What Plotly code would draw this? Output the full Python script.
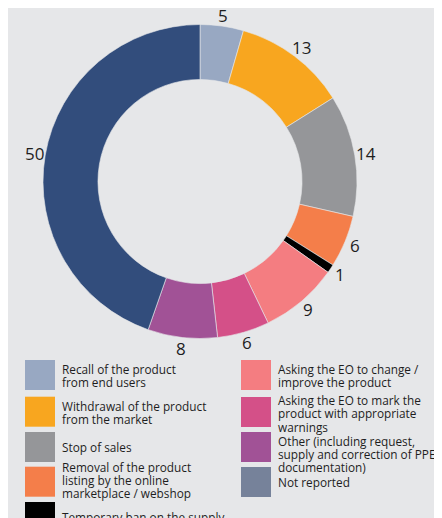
import math
import plotly.graph_objects as go

# pie data, clockwise from 12 o'clock
measures = [
    "Recall of the product from end users",
    "Withdrawal of the product from the market",
    "Stop of sales",
    "Removal of the product listing by the online marketplace / webshop",
    "Temporary ban on the supply",
    "Asking the EO to change / improve the product",
    "Asking the EO to mark the product with appropriate warnings",
    "Other (including request, supply and correction of PPE documentation)",
    "Not reported",
]
counts = [5, 13, 14, 6, 1, 9, 6, 8, 50]
slice_colors = ["#98a8c2", "#f8a61f", "#959699", "#f47e4a", "#000000",
                "#f47d81", "#d45088", "#a15296", "#324d7c"]

# legend, as printed (two columns, the last left item is cut off)
legend_left = [
    ["Recall of the product", "from end users"],
    ["Withdrawal of the product", "from the market"],
    ["Stop of sales"],
    ["Removal of the product", "listing by the online", "marketplace / webshop"],
    ["Temporary ban on the supply"],
]
legend_left_colors = ["#98a8c2", "#f8a61f", "#959699", "#f47e4a", "#000000"]
legend_right = [
    ["Asking the EO to change /", "improve the product"],
    ["Asking the EO to mark the", "product with appropriate", "warnings"],
    ["Other (including request,", "supply and correction of PPE", "documentation)"],
    ["Not reported"],
]
legend_right_colors = ["#f47d81", "#d45088", "#a15296", "#76829a"]

W, H = 442, 518
OFF = 8  # the page body adds an 8px margin, so pull everything back by that
BG = "#e6e7e9"
FONT = "Open Sans"
INK = "#1e1e1e"


def px(x):
    return (x - OFF) / W


def py(y):
    return 1 - (y - OFF) / H


cx, cy, R = 200, 181.5, 157
R_LABEL = 168

fig = go.Figure()
fig.add_trace(go.Pie(
    labels=measures,
    values=counts,
    sort=False,
    direction="clockwise",
    rotation=0,
    hole=0.65,
    marker=dict(colors=slice_colors, line=dict(color=BG, width=0.6)),
    textinfo="none",
    showlegend=False,
    domain=dict(x=[px(cx - R), px(cx + R)], y=[py(cy + R), py(cy - R)]),
    hoverinfo="label+value",
))

shapes = []
annotations = []

# value labels sit just outside the ring, at each slice's mid angle
total = sum(counts)
run = 0
for v in counts:
    mid = (run + v / 2) / total * 2 * math.pi
    run += v
    annotations.append(dict(
        text=str(v), xref="paper", yref="paper",
        x=px(cx + R_LABEL * math.sin(mid)), y=py(cy - R_LABEL * math.cos(mid)),
        xanchor="center", yanchor="middle", showarrow=False,
        font=dict(family=FONT, size=17, color=INK)))


def add_column(items, colors, sw_x, txt_x, sw_tops, first_lines):
    for lines, col, top, y0 in zip(items, colors, sw_tops, first_lines):
        shapes.append(dict(type="rect", xref="paper", yref="paper",
                           x0=px(sw_x), x1=px(sw_x + 30),
                           y0=py(top), y1=py(top + 30),
                           fillcolor=col, line=dict(width=0)))
        for i, line in enumerate(lines):
            annotations.append(dict(
                text=line, xref="paper", yref="paper",
                x=px(txt_x), y=py(y0 + i * 13.3),
                xanchor="left", yanchor="middle", showarrow=False,
                font=dict(family=FONT, size=11.8, color=INK)))


add_column(legend_left, legend_left_colors, 25, 60,
           [360, 396.7, 432, 466.7, 502], [369, 406, 446.7, 466.7, 516.7])
add_column(legend_right, legend_right_colors, 241, 276,
           [360, 397, 432, 467], [369, 400, 440.7, 481.7])

fig.update_layout(
    width=W, height=H,
    margin=dict(l=0, r=0, t=0, b=0),
    paper_bgcolor=BG, plot_bgcolor=BG,
    shapes=shapes, annotations=annotations,
)

fig.write_html("out.html")
